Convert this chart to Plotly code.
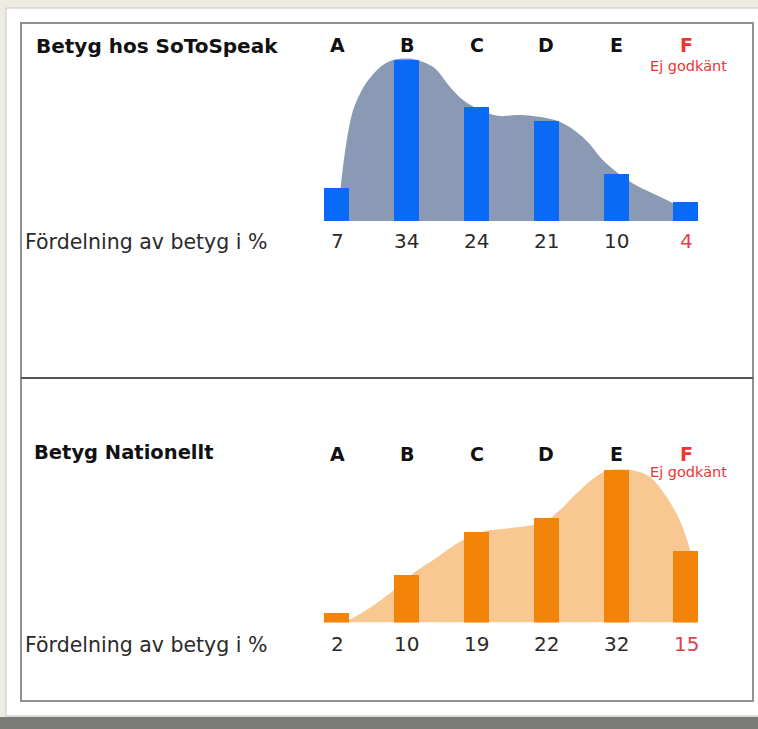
import plotly.graph_objects as go

# ---------------- data ----------------
grades = ["A", "B", "C", "D", "E", "F"]
sotospeak_pct = [7, 34, 24, 21, 10, 4]
national_pct = [2, 10, 19, 22, 32, 15]

top_title = "Betyg hos SoToSpeak"
bottom_title = "Betyg Nationellt"
row_label = "Fördelning av betyg i %"
fail_note = "Ej godkänt"

# smooth distribution outline (grade index, percent)
sotospeak_env_x = [0.03, 0.06, 0.14, 0.23, 0.33, 0.43, 0.62, 0.78, 1.0, 1.12, 1.38, 1.62,
                   1.81, 2.10, 2.34, 2.58, 2.81, 3.19, 3.52, 3.86, 4.24, 4.63, 4.96, 5.17]
sotospeak_env_y = [3, 8.0, 17.0, 23.3, 26.8, 29.3, 32.4, 33.8, 34.2, 34.0, 32.4, 28.2,
                   25.4, 23.0, 22.1, 22.3, 22.1, 20.9, 17.7, 12.1, 7.9, 5.1, 2.6, 0.5]
national_env_x = [-0.15, 0.17, 0.76, 1.12, 1.38, 1.81, 2.14, 2.43, 2.81, 3.01, 3.19, 3.43,
                  3.67, 3.88, 4.05, 4.22, 4.48, 4.72, 4.91, 5.03, 5.12]
national_env_y = [0, 0.6, 6.1, 10.6, 13.1, 17.3, 19.2, 19.7, 20.4, 21.4, 23.5, 27.0,
                  30.1, 31.9, 32.0, 31.9, 30.5, 26.3, 21.4, 16.6, 12.0]

# ---------------- layout helpers ----------------
W, H = 758, 729


def px(x):
    return x / W


def py(y):
    return 1 - y / H


FONT = "DejaVu Sans, Liberation Sans, Arial, sans-serif"
RED = "#f03333"
NUMRED = "#e0414b"
DARK = "#2a2a2a"
idx = list(range(len(grades)))

fig = go.Figure()

# top: envelope (base axes) + bars (overlay axes, drawn above)
fig.add_trace(go.Scatter(x=sotospeak_env_x, y=sotospeak_env_y, mode="lines",
                         line=dict(shape="spline", smoothing=1.0, width=0, color="#8a9ab4"),
                         fill="tozeroy", fillcolor="#8a9ab4", xaxis="x", yaxis="y",
                         hoverinfo="skip", showlegend=False))
fig.add_trace(go.Bar(x=idx, y=sotospeak_pct, width=0.36, marker=dict(color="#0a6af8", line=dict(width=0)),
                     xaxis="x", yaxis="y2", showlegend=False))
# bottom
fig.add_trace(go.Scatter(x=national_env_x, y=national_env_y, mode="lines",
                         line=dict(shape="spline", smoothing=1.0, width=0, color="#f8c792"),
                         fill="tozeroy", fillcolor="#f8c792", xaxis="x2", yaxis="y3",
                         hoverinfo="skip", showlegend=False))
fig.add_trace(go.Bar(x=idx, y=national_pct, width=0.36, marker=dict(color="#f2840a", line=dict(width=0)),
                     xaxis="x2", yaxis="y4", showlegend=False))

xdom = [px(302.1), px(720.9)]
ax = dict(visible=False, range=[-0.5, 5.5], fixedrange=True)
top_dom = [py(221), py(50)]
bot_dom = [py(622.5), py(450.5)]
yr = [0, 36]

shapes = [
    dict(type="rect", xref="paper", yref="paper", x0=px(6), x1=px(762), y0=py(716), y1=py(8),
         fillcolor="white", line=dict(color="#c9c7c1", width=1), layer="below"),
    dict(type="rect", xref="paper", yref="paper", x0=0, x1=1, y0=0, y1=py(717),
         fillcolor="#7a7a78", line=dict(width=0), layer="below"),
    dict(type="rect", xref="paper", yref="paper", x0=px(21), x1=px(753), y0=py(701), y1=py(23),
         fillcolor="rgba(0,0,0,0)", line=dict(color="#909090", width=2), layer="below"),
    dict(type="line", xref="paper", yref="paper", x0=px(21), x1=px(753), y0=py(378), y1=py(378),
         line=dict(color="#555555", width=2), layer="below"),
]

ann = []


def label(x, y, text, size, color=DARK, bold=False, xref="paper", xanchor="left"):
    ann.append(dict(x=x, y=y, xref=xref, yref="paper", text=f"<b>{text}</b>" if bold else text,
                    showarrow=False, xanchor=xanchor, yanchor="middle",
                    font=dict(family=FONT, size=size, color=color)))


# section titles and row labels
label(px(34), py(46), top_title, 20, "#111", bold=True)
label(px(23), py(242), row_label, 20.5, DARK)
label(px(32), py(453), bottom_title, 19.5, "#111", bold=True)
label(px(23), py(645), row_label, 20.5, DARK)

for i, g in enumerate(grades):
    is_fail = (i == len(grades) - 1)
    # top chart letters / values
    label(i, py(45), g, 19, RED if is_fail else "#111", bold=True, xref="x", xanchor="center")
    label(i, py(241), str(sotospeak_pct[i]), 20, NUMRED if is_fail else DARK, xref="x", xanchor="center")
    # bottom chart letters / values
    label(i, py(454), g, 19, RED if is_fail else "#111", bold=True, xref="x2", xanchor="center")
    label(i, py(644), str(national_pct[i]), 20, NUMRED if is_fail else DARK, xref="x2", xanchor="center")

label(len(grades) - 1 + 0.04, py(66), fail_note, 14.5, RED, xref="x", xanchor="center")
label(len(grades) - 1 + 0.04, py(472), fail_note, 14.5, RED, xref="x2", xanchor="center")

fig.update_layout(
    width=W, height=H, margin=dict(l=0, r=0, t=0, b=0),
    paper_bgcolor="#eeebe3", plot_bgcolor="rgba(0,0,0,0)",
    showlegend=False, bargap=0,
    xaxis=dict(ax, domain=xdom, anchor="y"),
    xaxis2=dict(ax, domain=xdom, anchor="y3"),
    yaxis=dict(visible=False, range=yr, domain=top_dom, anchor="x", fixedrange=True),
    yaxis2=dict(visible=False, range=yr, overlaying="y", anchor="x", fixedrange=True),
    yaxis3=dict(visible=False, range=yr, domain=bot_dom, anchor="x2", fixedrange=True),
    yaxis4=dict(visible=False, range=yr, overlaying="y3", anchor="x2", fixedrange=True),
    shapes=shapes, annotations=ann,
)

fig.write_html("out.html", config={"displayModeBar": False},
               post_script="document.body.style.margin='0';")
